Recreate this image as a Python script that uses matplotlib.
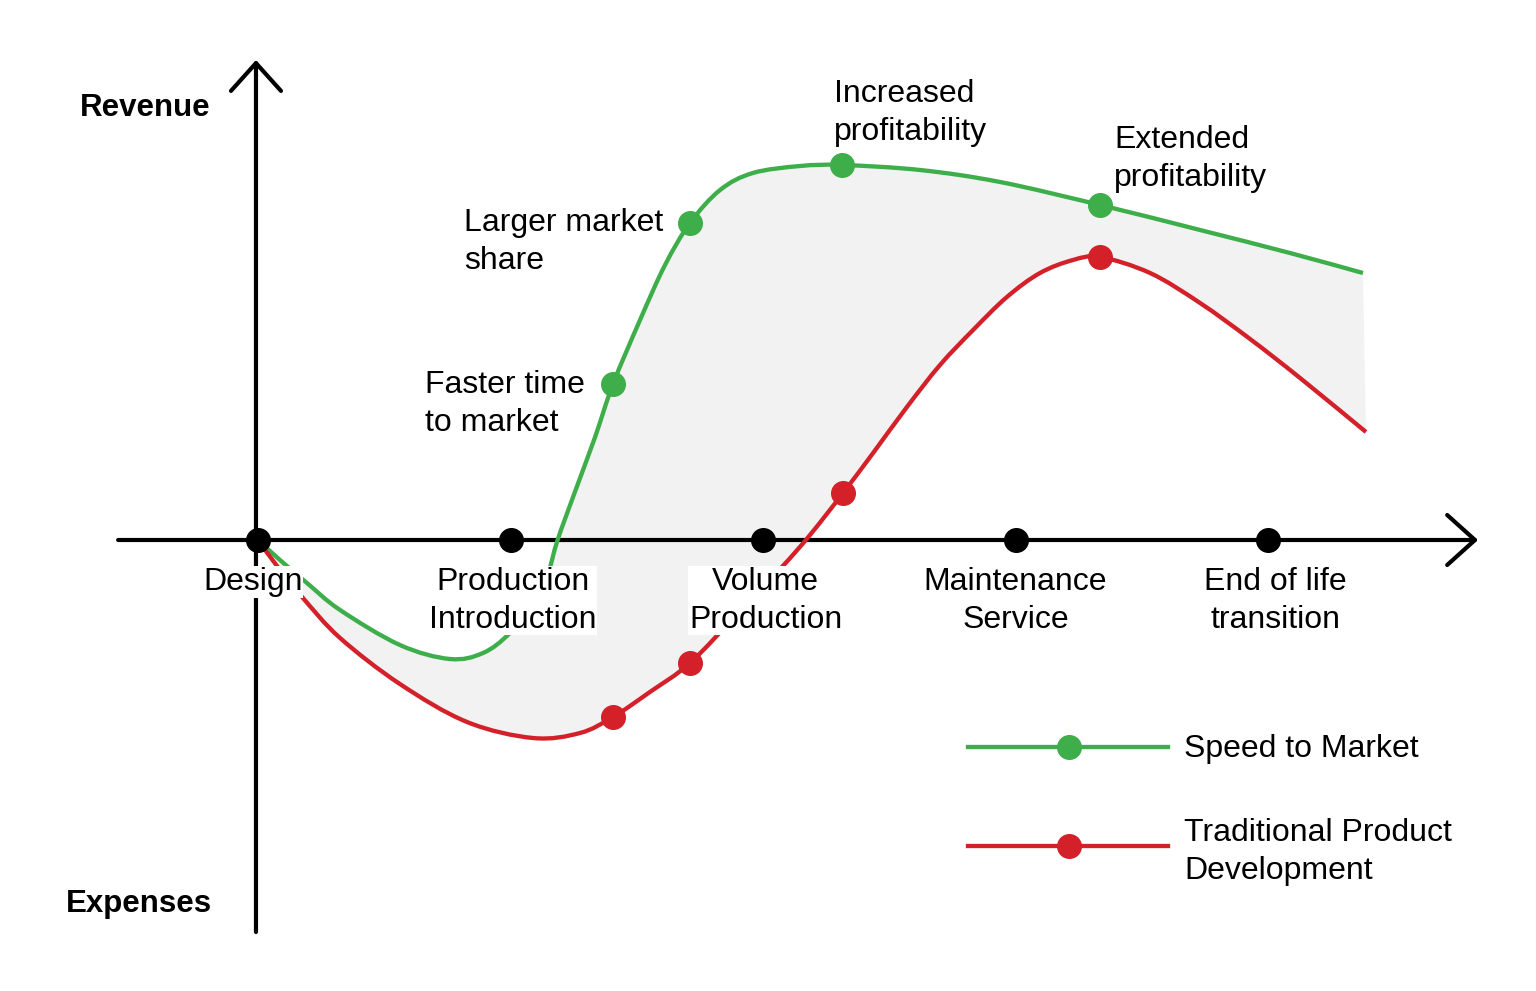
import numpy as np
import matplotlib
matplotlib.use('Agg')
import matplotlib.pyplot as plt
from matplotlib.path import Path
from matplotlib.patches import PathPatch

plt.rcParams['font.family'] = ['Liberation Sans', 'DejaVu Sans']

# stages along the time axis
stages = ['Design', 'Production\nIntroduction', 'Volume\nProduction',
          'Maintenance\nService', 'End of life\ntransition']
stage_x = [0, 1, 2, 3, 4]

# Speed to Market curve (x = stage, y = revenue / expenses)
green_x = [0, 0.087, 0.194, 0.325, 0.562, 0.760, 0.891, 0.998, 1.117, 1.184,
           1.255, 1.335, 1.406, 1.513, 1.612, 1.711, 1.830, 1.960, 2.147, 2.313,
           2.622, 2.939, 3.335, 3.731, 4.087, 4.376]
green_y = [0, -0.20, -0.43, -0.70, -1.05, -1.19, -1.13, -0.93, -0.58, -0.02,
           0.48, 1.03, 1.56, 2.20, 2.75, 3.17, 3.50, 3.67, 3.74, 3.75,
           3.70, 3.58, 3.35, 3.10, 2.87, 2.67]
green_mx = [1.406, 1.711, 2.313, 3.335]
green_my = [1.56, 3.17, 3.75, 3.35]
green_notes = ['Faster time\nto market', 'Larger market\nshare',
               'Increased\nprofitability', 'Extended\nprofitability']

# Traditional Product Development curve
red_x = [0, 0.087, 0.178, 0.325, 0.562, 0.828, 1.089, 1.275, 1.406,
         1.552, 1.711, 1.909, 2.075, 2.186, 2.317, 2.436, 2.570, 2.701, 2.832,
         2.966, 3.097, 3.228, 3.335, 3.533, 3.731, 3.929, 4.127, 4.388]
red_y = [0, -0.30, -0.58, -0.98, -1.44, -1.82, -1.98, -1.93, -1.77,
         -1.52, -1.23, -0.71, -0.27, 0.05, 0.47, 0.87, 1.33, 1.75, 2.10,
         2.43, 2.67, 2.80, 2.83, 2.67, 2.37, 2.01, 1.62, 1.08]
red_mx = [1.406, 1.711, 2.317, 3.335]
red_my = [-1.77, -1.23, 0.47, 2.83]

GREEN = '#3DAE49'
RED = '#D42029'
W, H = 1536, 991


def fp(x, y):
    # pixel position -> figure fraction (layout only)
    return x / W, 1 - y / H


def bezier_verts(xs, ys):
    # smooth path through the read points (catmull-rom as cubic bezier)
    p = np.column_stack([xs, ys])
    ext = np.vstack([p[0], p, p[-1]])
    verts = [p[0]]
    for i in range(len(p) - 1):
        p0, p1, p2, p3 = ext[i], ext[i + 1], ext[i + 2], ext[i + 3]
        verts += [p1 + (p2 - p0) / 6, p2 - (p3 - p1) / 6, p2]
    return np.array(verts)


def curve_path(xs, ys):
    v = bezier_verts(xs, ys)
    codes = [Path.MOVETO] + [Path.CURVE4] * (len(v) - 1)
    return Path(v, codes)


fig = plt.figure(figsize=(W / 100, H / 100), dpi=100)
ax = fig.add_axes([0, 0, 1, 1])
ax.set_xlim(-258 / 252.5, (W - 258) / 252.5)
ax.set_ylim((540 - H) / 100, 540 / 100)
ax.axis('off')

# shaded gap between the two curves
gv = bezier_verts(green_x, green_y)
rv = bezier_verts(red_x, red_y)[::-1]
fill_v = np.vstack([gv, rv, rv[-1:]])
fill_c = ([Path.MOVETO] + [Path.CURVE4] * (len(gv) - 1) + [Path.LINETO]
          + [Path.CURVE4] * (len(rv) - 1) + [Path.CLOSEPOLY])
ax.add_patch(PathPatch(Path(fill_v, fill_c), facecolor='#F2F2F2', lw=0, zorder=1))

# axes with open arrow heads
arrow = dict(arrowstyle='->,head_length=1.0,head_width=0.9', lw=3, color='black',
             shrinkA=0, shrinkB=0, mutation_scale=20)
ax.annotate('', xy=(4.832, 0), xytext=(-0.554, 0), arrowprops=arrow, zorder=2)
ax.annotate('', xy=(-0.008, 4.80), xytext=(-0.008, -3.92), arrowprops=arrow, zorder=2)

ax.add_patch(PathPatch(curve_path(green_x, green_y), facecolor='none',
                       edgecolor=GREEN, lw=3.1, zorder=3))
ax.add_patch(PathPatch(curve_path(red_x, red_y), facecolor='none',
                       edgecolor=RED, lw=3.1, zorder=3))

# stage labels with white backing
label_dx = [-0.02, 0.01, 0.01, 0.0, 0.03]
for sx, dx, name in zip(stage_x, label_dx, stages):
    ax.text(sx + dx, (540 - 567) / 100, name, ha='center', va='top', fontsize=23,
            multialignment='center', linespacing=1.34, zorder=4,
            bbox=dict(facecolor='white', edgecolor='none', pad=0.5))

ax.plot(stage_x, [0] * len(stage_x), 'o', color='black', ms=17, zorder=5)
ax.plot(green_mx, green_my, 'o', color=GREEN, ms=17, zorder=5)
ax.plot(red_mx, red_my, 'o', color=RED, ms=17, zorder=5)

# notes on the green curve
note_pos = [(425, 370), (464, 208), (834, 79), (1114, 125)]
for (px, py), note in zip(note_pos, green_notes):
    fig.text(*fp(px, py), note, ha='left', va='top', fontsize=23, linespacing=1.34)

fig.text(*fp(145, 108), 'Revenue', ha='center', va='center', fontsize=22.5,
         fontweight='bold')
fig.text(*fp(139, 904), 'Expenses', ha='center', va='center', fontsize=22.5,
         fontweight='bold')

# legend
legend = [(747, GREEN, 'Speed to Market', 734),
          (846, RED, 'Traditional Product\nDevelopment', 818)]
for ly, col, lab, ty in legend:
    x0, y0 = fp(968, ly)
    x1, _ = fp(1168, ly)
    xm, _ = fp(1069, ly)
    ax.plot([x0, x1], [y0, y0], color=col, lw=3.1, transform=fig.transFigure)
    ax.plot([xm], [y0], 'o', color=col, ms=17, transform=fig.transFigure)
    fig.text(*fp(1184, ty), lab, ha='left', va='top', fontsize=23, linespacing=1.34)

fig.savefig('out.png', dpi=100, facecolor='white')
